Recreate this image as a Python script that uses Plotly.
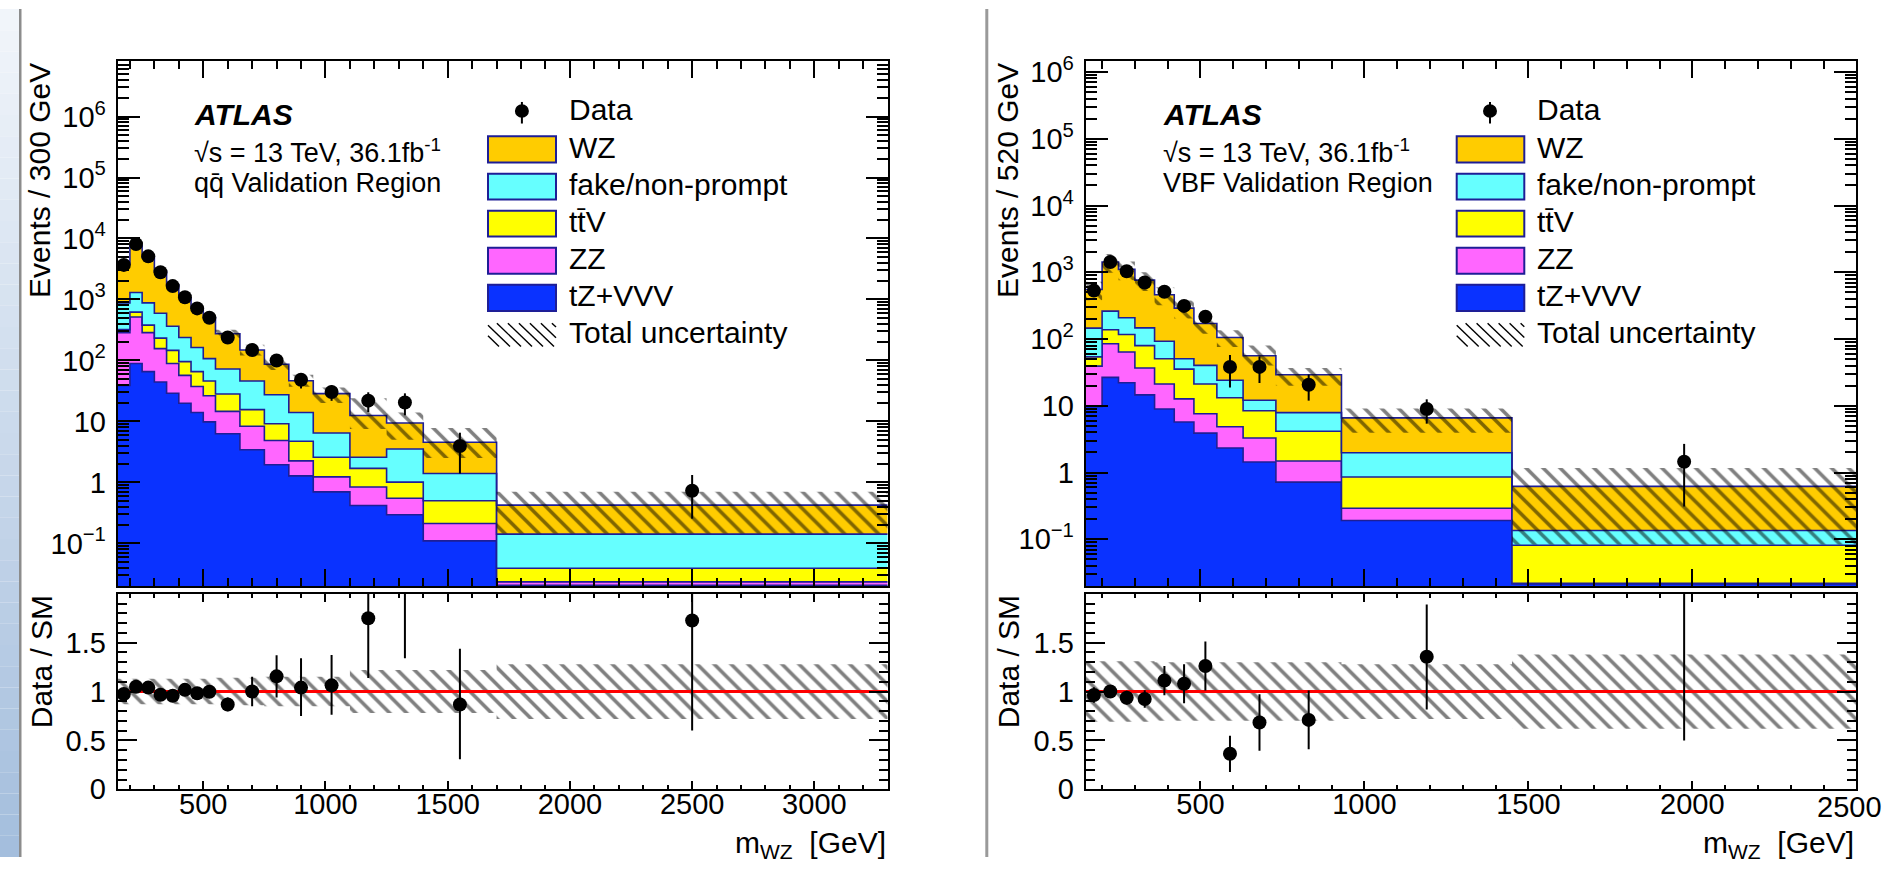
import numpy as np
import plotly.graph_objects as go

W, H = 1885, 873

# ---------------- left panel: qq-bar validation region ----------------
edges_l = [150, 200, 250, 300, 350, 400, 450, 500, 550, 650, 750, 850, 950, 1100, 1250, 1400, 1700, 3300]
wz_l   = [2911, 6407, 4015, 2291, 1367, 830, 562, 396, 201.7, 101.9, 59.0, 32.3, 22.05, 9.91, 5.88, 3.14, 0.281]
fake_l = [559, 684, 500, 362, 217, 142.3, 97.5, 60.9, 44.1, 30.5, 18.24, 9.26, 3.86, 0.89, 2.51, 0.90, 0.103]
ttv_l  = [34, 103, 93, 76, 56.9, 38.8, 28.2, 19.8, 13.6, 7.29, 4.29, 2.49, 1.36, 0.86, 0.46, 0.288, 0.0156]
zz_l   = [247, 427, 220.5, 111.8, 60.1, 37.0, 23.3, 16.46, 8.33, 4.88, 2.92, 0.97, 0.53, 0.423, 0.256, 0.102, 0.0029]
tzv_l  = [38.9, 89.1, 65.5, 44.2, 29.0, 19.9, 14.0, 9.84, 6.27, 3.43, 1.95, 1.28, 0.70, 0.417, 0.294, 0.110, 0.0205]
data_l = [3690, 8090, 5090, 2790, 1656, 1086, 713, 502, 238, 148, 99.8, 48.1, 30.3, 21.9, 20.4, 3.94, 0.73]
band_hi_l = [4280, 8710, 5530, 3260, 1955, 1207, 820, 568, 320, 180, 112, 58, 36, 24, 14, 7.8, 0.70]
band_lo_l = [3300, 6710, 4260, 2510, 1505, 930, 630, 438, 230, 120, 70, 37, 20, 7.5, 5.0, 2.5, 0.145]
ratio_l    = [0.974, 1.049, 1.040, 0.967, 0.957, 1.017, 0.983, 0.997, 0.868, 1.0, 1.155, 1.040, 1.063, 1.749, 2.17, 0.868, 1.726]
rerr_lo_l  = [0.03, 0.02, 0.02, 0.025, 0.03, 0.035, 0.04, 0.05, 0.07, 0.15, 0.215, 0.29, 0.30, 0.61, 0.83, 0.56, 1.125]
rerr_hi_l  = [0.03, 0.02, 0.02, 0.025, 0.03, 0.035, 0.04, 0.05, 0.07, 0.15, 0.215, 0.30, 0.31, 0.65, 0.90, 0.57, 1.40]
unc_l      = [0.13, 0.13, 0.13, 0.13, 0.13, 0.13, 0.13, 0.13, 0.14, 0.14, 0.15, 0.15, 0.15, 0.22, 0.22, 0.22, 0.28]

# ---------------- right panel: VBF validation region ----------------
edges_r = [150, 200, 250, 300, 360, 420, 480, 550, 630, 730, 930, 1450, 2500]
wz_r   = [406, 1167, 897, 616, 367, 240, 131, 81.4, 44.0, 21.3, 4.62, 0.485]
fake_r = [92, 124, 91, 67.4, 42.1, 15.3, 19.1, 10.9, 3.67, 3.75, 1.12, 0.054]
ttv_r  = [14.7, 53.1, 53, 42.8, 29.6, 22.8, 13.6, 8.35, 5.13, 2.67, 0.568, 0.0595]
zz_r   = [29.5, 58.2, 41.9, 22.2, 12.2, 6.97, 3.71, 2.52, 1.86, 0.77, 0.101, 0.0005]
tzv_r  = [9.82, 26.7, 22.1, 14.6, 8.97, 5.73, 3.90, 2.33, 1.44, 0.72, 0.191, 0.0215]
data_r = [532, 1429, 1035, 705, 512, 314, 216, 38.3, 38.3, 20.7, 8.97, 1.45]
band_hi_r = [723, 1872, 1448, 1000, 598, 378, 222, 135, 80, 37, 9.1, 1.17]
band_lo_r = [381, 986, 762, 526, 322, 204, 120, 76, 40, 20, 3.95, 0.084]
ratio_r    = [0.964, 1.0, 0.937, 0.924, 1.112, 1.079, 1.261, 0.363, 0.683, 0.710, 1.356, 2.34]
rerr_lo_r  = [0.08, 0.06, 0.07, 0.09, 0.15, 0.20, 0.25, 0.185, 0.29, 0.30, 0.54, 1.84]
rerr_hi_r  = [0.08, 0.06, 0.07, 0.09, 0.15, 0.20, 0.25, 0.185, 0.29, 0.30, 0.535, 2.0]
unc_r      = [0.31, 0.31, 0.31, 0.31, 0.30, 0.30, 0.30, 0.30, 0.30, 0.30, 0.28, 0.38]

xticks_l = [500, 1000, 1500, 2000, 2500, 3000]
xticks_r = [500, 1000, 1500, 2000]
xtick_r_edge = "2500"

legend_labels = ["Data", "WZ", "fake/non-prompt", "tt\u0304V", "ZZ", "tZ+VVV", "Total uncertainty"]
colors = {"WZ": "#ffcc00", "fake": "#66ffff", "ttV": "#ffff00", "ZZ": "#ff66ff", "tZ": "#0a32ff"}
OUTLINE = "#1e1e96"
FONT = "Liberation Sans, Arial, sans-serif"

def px(x):
    return x / W

def py(y):
    return 1 - y / H

def steps(edges, vals):
    xs, ys = [], []
    for i, v in enumerate(vals):
        xs += [edges[i], edges[i + 1]]
        ys += [v, v]
    return xs, ys

fig = go.Figure()
PATTERN = dict(shape="\\", size=12, solidity=0.3, fgcolor="black", bgcolor="rgba(0,0,0,0)")

def add_panel(edges, comps, data, bhi, blo, ratio, rlo, rhi, unc, xa, ya, xr, yr, xrange):
    xs, base = steps(edges, [1e-5] * len(data))
    fig.add_trace(go.Scatter(x=xs, y=base, mode="lines", line=dict(width=0), xaxis=xa, yaxis=ya,
                             showlegend=False, hoverinfo="skip"))
    cum = np.zeros(len(data))
    for vals, col in comps:
        cum = cum + np.array(vals, dtype=float)
        xs, ys = steps(edges, list(cum))
        fig.add_trace(go.Scatter(x=xs, y=ys, mode="lines", fill="tonexty", fillcolor=col,
                                 line=dict(color=OUTLINE, width=1.6), xaxis=xa, yaxis=ya,
                                 showlegend=False, hoverinfo="skip"))
    xs_u, hi = steps(edges, list(bhi))
    _, lo = steps(edges, list(blo))
    fig.add_trace(go.Scatter(x=xs_u + xs_u[::-1], y=hi + lo[::-1], mode="lines", fill="toself",
                             fillcolor="rgba(0,0,0,0)", fillpattern=PATTERN, line=dict(width=0),
                             xaxis=xa, yaxis=ya, showlegend=False, hoverinfo="skip"))
    centers = [(edges[i] + edges[i + 1]) / 2 for i in range(len(data))]
    data = np.array(data, dtype=float)
    ratio = np.array(ratio, dtype=float)
    up_hi = data * np.array(rhi) / ratio
    up_lo = data * np.array(rlo) / ratio
    fig.add_trace(go.Scatter(x=centers, y=list(data), mode="markers",
                             marker=dict(color="black", size=14),
                             error_y=dict(type="data", array=list(up_hi), arrayminus=list(up_lo),
                                          color="black", thickness=2, width=0),
                             xaxis=xa, yaxis=ya, showlegend=False, hoverinfo="skip"))
    unc = np.array(unc)
    _, rb_hi = steps(edges, list(1 + unc))
    _, rb_lo = steps(edges, list(1 - unc))
    fig.add_trace(go.Scatter(x=xs_u + xs_u[::-1], y=rb_hi + rb_lo[::-1], mode="lines", fill="toself",
                             fillcolor="rgba(0,0,0,0)", fillpattern=PATTERN, line=dict(width=0),
                             xaxis=xr, yaxis=yr, showlegend=False, hoverinfo="skip"))
    fig.add_trace(go.Scatter(x=xrange, y=[1, 1], mode="lines", line=dict(color="#ff0000", width=3),
                             xaxis=xr, yaxis=yr, showlegend=False, hoverinfo="skip"))
    fig.add_trace(go.Scatter(x=centers, y=list(ratio), mode="markers",
                             marker=dict(color="black", size=14),
                             error_y=dict(type="data", array=list(rhi), arrayminus=list(rlo),
                                          color="black", thickness=2, width=0),
                             xaxis=xr, yaxis=yr, showlegend=False, hoverinfo="skip"))

XRANGE_L = [150, 3300]
XRANGE_R = [150, 2500]
YRANGE_L = [np.log10(0.02), np.log10(8e6)]
YRANGE_R = [np.log10(0.02), np.log10(1.44e6)]

add_panel(edges_l, [(tzv_l, colors["tZ"]), (zz_l, colors["ZZ"]), (ttv_l, colors["ttV"]),
                    (fake_l, colors["fake"]), (wz_l, colors["WZ"])],
          data_l, band_hi_l, band_lo_l, ratio_l, rerr_lo_l, rerr_hi_l, unc_l, "x", "y", "x3", "y3", XRANGE_L)
add_panel(edges_r, [(tzv_r, colors["tZ"]), (zz_r, colors["ZZ"]), (ttv_r, colors["ttV"]),
                    (fake_r, colors["fake"]), (wz_r, colors["WZ"])],
          data_r, band_hi_r, band_lo_r, ratio_r, rerr_lo_r, rerr_hi_r, unc_r, "x2", "y2", "x4", "y4", XRANGE_R)

XL = [117.7 / W, 887.7 / W]
XR = [1085.7 / W, 1856.3 / W]
YU = [py(594), py(54)]
YRt = [py(803.3), py(602)]

tickfont = dict(family=FONT, size=29, color="black")
log_major = [0.1, 1, 10, 100, 1e3, 1e4, 1e5, 1e6]
log_text = ["10<sup>\u22121</sup>", "1", "10", "10<sup>2</sup>", "10<sup>3</sup>", "10<sup>4</sup>",
            "10<sup>5</sup>", "10<sup>6</sup>"]
log_minor = [m * 10.0 ** k for k in range(-2, 7) for m in range(2, 10)]

def xaxis_cfg(domain, rng, anchor, labels, major_len, minor_len, ticks):
    return dict(domain=domain, range=rng, anchor=anchor, showline=True, linecolor="black", linewidth=2,
                mirror="allticks", ticks="inside", ticklen=major_len, tickwidth=2, tickcolor="black",
                tickmode="array", tickvals=ticks, ticktext=[str(t) for t in ticks],
                showticklabels=labels, tickfont=tickfont, showgrid=False, zeroline=False,
                ticklabelstandoff=-12,
                minor=dict(ticks="inside", ticklen=minor_len, tickwidth=1.5, tickcolor="black",
                           tickmode="linear", tick0=0, dtick=100, showgrid=False))

def ylog_cfg(domain, rng, anchor):
    return dict(domain=domain, range=rng, anchor=anchor, type="log", showline=True, linecolor="black",
                linewidth=2, mirror="allticks", ticks="inside", ticklen=22, tickwidth=2, tickcolor="black",
                tickmode="array", tickvals=log_major, ticktext=log_text, tickfont=tickfont,
                showgrid=False, zeroline=False, ticklabelstandoff=4,
                minor=dict(ticks="inside", ticklen=11, tickwidth=1.5, tickcolor="black",
                           tickmode="array", tickvals=log_minor, showgrid=False))

def yratio_cfg(domain, anchor):
    return dict(domain=domain, range=[0, 2], anchor=anchor, showline=True, linecolor="black", linewidth=2,
                mirror="allticks", ticks="inside", ticklen=19, tickwidth=2, tickcolor="black",
                tickmode="array", tickvals=[0, 0.5, 1, 1.5], ticktext=["0", "0.5", "1", "1.5"],
                tickfont=tickfont, showgrid=False, zeroline=False, ticklabelstandoff=4,
                minor=dict(ticks="inside", ticklen=9, tickwidth=1.5, tickcolor="black",
                           tickmode="array", tickvals=[i / 10 for i in range(0, 21)], showgrid=False))

fig.update_layout(
    width=W, height=H, margin=dict(l=0, r=0, t=0, b=0),
    paper_bgcolor="white", plot_bgcolor="white", showlegend=False,
    font=dict(family=FONT, color="black"),
    xaxis=xaxis_cfg(XL, XRANGE_L, "y", False, 17, 8, xticks_l),
    yaxis=ylog_cfg(YU, YRANGE_L, "x"),
    xaxis2=xaxis_cfg(XR, XRANGE_R, "y2", False, 17, 8, xticks_r),
    yaxis2=ylog_cfg(YU, YRANGE_R, "x2"),
    xaxis3=xaxis_cfg(XL, XRANGE_L, "y3", True, 8, 4, xticks_l),
    yaxis3=yratio_cfg(YRt, "x3"),
    xaxis4=xaxis_cfg(XR, XRANGE_R, "y4", True, 8, 4, xticks_r),
    yaxis4=yratio_cfg(YRt, "x4"),
)

shapes = []
annots = []

# background decorations (slide frame)
n_band = 40
c_top = np.array([242, 246, 251])
c_bot = np.array([164, 190, 221])
for i in range(n_band):
    t = (i + 0.5) / n_band
    c = (c_top * (1 - t) + c_bot * t).astype(int)
    shapes.append(dict(type="rect", xref="paper", yref="paper", x0=0, x1=px(19),
                       y0=py(H * (i + 1) / n_band), y1=py(H * i / n_band),
                       fillcolor=f"rgb({c[0]},{c[1]},{c[2]})", line=dict(width=0), layer="below"))
shapes.append(dict(type="rect", xref="paper", yref="paper", x0=px(19), x1=px(21.5), y0=0, y1=1,
                   fillcolor="#8c8c8c", line=dict(width=0), layer="below"))
shapes.append(dict(type="rect", xref="paper", yref="paper", x0=px(985.3), x1=px(988.3), y0=0, y1=1,
                   fillcolor="#9a9a9a", line=dict(width=0), layer="below"))

def txt(x, y, s, size=27, xanchor="left", yanchor="middle", angle=0):
    annots.append(dict(x=px(x), y=py(y), xref="paper", yref="paper", text=s, showarrow=False,
                       xanchor=xanchor, yanchor=yanchor, textangle=angle,
                       font=dict(family=FONT, size=size, color="black")))

def hatch_lines(x0, x1, y0, y1, spacing=11):
    h = y1 - y0
    segs = []
    s = x0 - h
    while s < x1:
        ax, ay = s, y0
        bx, by = s + h, y1
        if ax < x0:
            ay = y0 + (x0 - ax)
            ax = x0
        if bx > x1:
            by = y1 - (bx - x1)
            bx = x1
        if bx > ax:
            segs.append(dict(type="line", xref="paper", yref="paper", x0=px(ax), y0=py(ay),
                             x1=px(bx), y1=py(by), line=dict(color="black", width=1.4)))
        s += spacing
    return segs

def legend(bx0, bx1, mx, tx):
    rows = [(131, 158, colors["WZ"]), (169.5, 196, colors["fake"]), (207.8, 234.2, colors["ttV"]),
            (245.7, 272.5, colors["ZZ"]), (284, 310.8, colors["tZ"])]
    shapes.append(dict(type="line", xref="paper", yref="paper", x0=px(mx), x1=px(mx), y0=py(95.7), y1=py(117.9),
                       line=dict(color="black", width=2)))
    shapes.append(dict(type="circle", xref="paper", yref="paper", x0=px(mx - 7), x1=px(mx + 7),
                       y0=py(105 + 7), y1=py(105 - 7), fillcolor="black", line=dict(color="black", width=0)))
    txt(tx, 103.5, legend_labels[0], size=30)
    for i, (y0, y1, col) in enumerate(rows):
        shapes.append(dict(type="rect", xref="paper", yref="paper", x0=px(bx0), x1=px(bx1),
                           y0=py(y1), y1=py(y0), fillcolor=col, line=dict(color=OUTLINE, width=2)))
        txt(tx, (y0 + y1) / 2 - 2, legend_labels[i + 1], size=30)
    shapes.extend(hatch_lines(bx0, bx1, 323.4, 347.5))
    txt(tx, 333.5, legend_labels[6], size=30)

legend(488, 556, 521.9, 567)
legend(1456.7, 1524.3, 1490, 1535)

txt(192, 109, "<b><i>ATLAS</i></b>", size=30)
txt(192, 146, "\u221as = 13 TeV, 36.1fb<sup>-1</sup>", size=27)
txt(192, 179, "qq\u0304 Validation Region", size=27)
txt(1161, 109, "<b><i>ATLAS</i></b>", size=30)
txt(1161, 146, "\u221as = 13 TeV, 36.1fb<sup>-1</sup>", size=27)
txt(1161, 179, "VBF Validation Region", size=27)

txt(40, 54, "Events / 300 GeV", size=30, xanchor="center", yanchor="top", angle=-90)
txt(1008, 54, "Events / 520 GeV", size=30, xanchor="center", yanchor="top", angle=-90)
txt(41, 602, "Data / SM", size=30, xanchor="center", yanchor="top", angle=-90)
txt(1008, 602, "Data / SM", size=30, xanchor="center", yanchor="top", angle=-90)
txt(888, 839, "m<sub>WZ</sub>  [GeV]", size=30, xanchor="right", yanchor="top")
txt(1856.3, 839, "m<sub>WZ</sub>  [GeV]", size=30, xanchor="right", yanchor="top")
txt(1884, 822, xtick_r_edge, size=29, xanchor="right", yanchor="middle")

fig.update_layout(shapes=shapes, annotations=annots)
fig.write_html("out.html",
               post_script="document.body.style.margin='0px';document.body.style.overflow='hidden';"
                           "document.documentElement.style.overflow='hidden';")
